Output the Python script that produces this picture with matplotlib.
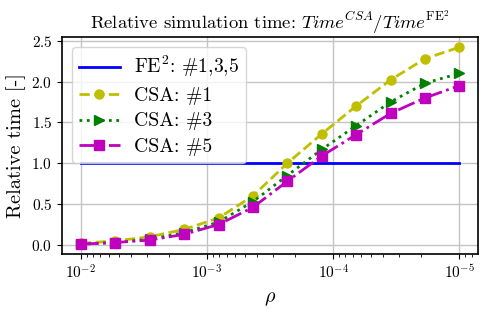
import matplotlib
matplotlib.use("Agg")
import matplotlib.pyplot as plt

plt.rcParams["font.family"] = "serif"
plt.rcParams["font.serif"] = ["cmr10"]
plt.rcParams["mathtext.fontset"] = "cm"
plt.rcParams["axes.formatter.use_mathtext"] = True
plt.rcParams["axes.unicode_minus"] = False

# rho values (log-spaced, 12 points from 1e-2 down to 1e-5)
rho = [1.0e-2, 5.34e-3, 2.85e-3, 1.52e-3, 8.11e-4, 4.33e-4,
       2.31e-4, 1.23e-4, 6.58e-5, 3.51e-5, 1.87e-5, 1.0e-5]

fe2 = [1.0] * len(rho)
csa_1 = [0.02, 0.05, 0.10, 0.19, 0.33, 0.60, 1.00, 1.36, 1.70, 2.02, 2.28, 2.42]
csa_3 = [0.01, 0.03, 0.07, 0.15, 0.28, 0.53, 0.85, 1.17, 1.46, 1.75, 1.98, 2.10]
csa_5 = [0.01, 0.03, 0.06, 0.13, 0.25, 0.46, 0.78, 1.09, 1.35, 1.61, 1.80, 1.95]

fig, ax = plt.subplots(figsize=(4.88, 3.09), dpi=100)
fig.subplots_adjust(left=0.127, right=0.980, top=0.879, bottom=0.178)

ax.plot(rho, fe2, "-", color="b", lw=2, label=r"FE$^2$: #1,3,5")
ax.plot(rho, csa_1, "--o", color="y", lw=2, ms=6.5, label="CSA: #1")
ax.plot(rho, csa_3, ":>", color="g", lw=2, ms=6.5, label="CSA: #3")
ax.plot(rho, csa_5, "-.s", color="m", lw=2, ms=6.5, label="CSA: #5")

ax.set_xscale("log")
ax.invert_xaxis()
ax.set_yticks([0.0, 0.5, 1.0, 1.5, 2.0, 2.5])
ax.tick_params(labelsize=11)
ax.grid(True, color="#c4c4c4", lw=1)
for s in ax.spines.values():
    s.set_linewidth(1.2)

ax.set_title(r"Relative simulation time: $Time^{CSA}/Time^{\mathrm{FE}^2}$", fontsize=13.4)
ax.set_xlabel(r"$\rho$", fontsize=14.5, labelpad=6)
ax.set_ylabel("Relative time [-]", fontsize=14.7)
ax.legend(loc="upper left", fontsize=14.2, handlelength=2.1, handletextpad=0.7,
          labelspacing=0.38, borderpad=0.35)

fig.savefig("out.png", dpi=100)
